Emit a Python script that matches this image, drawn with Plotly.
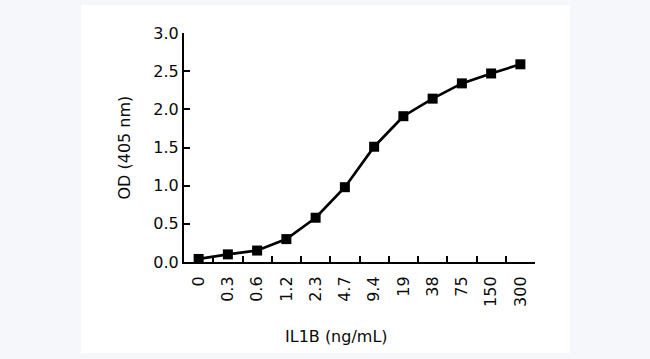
import plotly.graph_objects as go

concentrations = ["0", "0.3", "0.6", "1.2", "2.3", "4.7", "9.4", "19", "38", "75", "150", "300"]
od_values = [0.04, 0.10, 0.15, 0.30, 0.58, 0.98, 1.51, 1.91, 2.14, 2.34, 2.47, 2.59]
y_ticks = [0.0, 0.5, 1.0, 1.5, 2.0, 2.5, 3.0]
x_title = "IL1B (ng/mL)"
y_title = "OD (405 nm)"

W, H = 650, 359
L, R, T, B = 184, 115, 33, 97
pw, ph = W - L - R, H - T - B

def px_x(p):
    return (p - L) / pw

def px_y(p):
    return (H - B - p) / ph

font = dict(family="DejaVu Sans, sans-serif", size=16, color="#0a0a0a")

fig = go.Figure()
fig.add_trace(go.Scatter(
    x=concentrations, y=od_values, mode="lines+markers",
    line=dict(color="black", width=2.7),
    marker=dict(symbol="square", size=10, color="black"),
    cliponaxis=False,
))

fig.update_layout(
    width=W, height=H,
    margin=dict(l=L, r=R, t=T, b=B),
    paper_bgcolor="#f6f7fb",
    plot_bgcolor="white",
    showlegend=False,
    font=font,
    shapes=[dict(type="rect", xref="paper", yref="paper",
                 x0=px_x(81), x1=px_x(570), y0=px_y(353), y1=px_y(5),
                 fillcolor="white", line=dict(width=0), layer="below")],
    annotations=[
        dict(text=x_title, xref="paper", yref="paper", x=px_x(336), y=px_y(336),
             showarrow=False, xanchor="center", yanchor="middle", font=font),
        dict(text=y_title, xref="paper", yref="paper", x=px_x(124), y=0.5,
             showarrow=False, xanchor="center", yanchor="middle", textangle=-90, font=font),
    ],
)

fig.update_xaxes(
    type="category", range=[-0.5, len(concentrations) - 0.5],
    showline=True, linecolor="black", linewidth=2,
    ticks="inside", ticklen=6, tickwidth=2, tickcolor="black",
    tickson="boundaries", tickangle=-90, showgrid=False, zeroline=False,
    ticklabelstandoff=6,
)
fig.update_yaxes(
    range=[0, 3], tickvals=y_ticks, tickformat=".1f",
    showline=True, linecolor="black", linewidth=2,
    ticks="inside", ticklen=6, tickwidth=2, tickcolor="black",
    showgrid=False, zeroline=False,
)

fig.write_html("out.html", config={"displayModeBar": False},
               post_script="document.body.style.margin='0';")
